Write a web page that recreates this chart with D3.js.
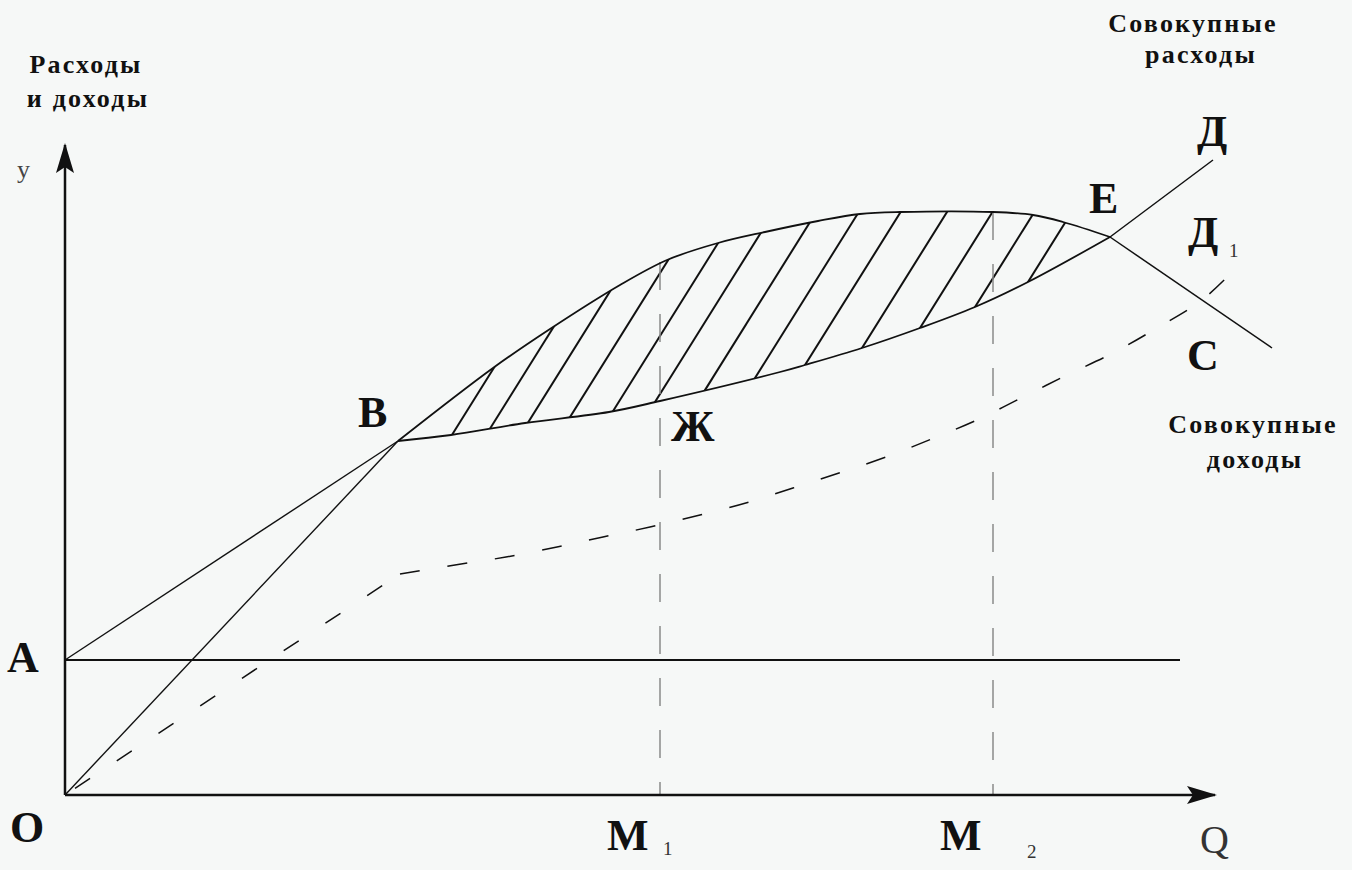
<!DOCTYPE html>
<head>
  <meta charset="utf-8">
  <script src="https://d3js.org/d3.v7.min.js"></script>
  <style>
    body { margin: 0; background-color: #f6f8f7; }
    svg { display: block; background-color: #f6f8f7; }
    text { font-family: "Liberation Serif", "DejaVu Serif", serif; fill: #111; }
    .big { font-size: 44px; font-weight: bold; }
    .cap { font-size: 26px; font-weight: bold; letter-spacing: 2.2px; }
    .sub { font-size: 19px; fill: #333; }
  </style>
</head>

<body>
  <div id="graph"></div>
  <script>
    var width = 1352;
    var height = 870;

    // axis extents (Q, y units)
    var xMax = 115, yMax = 65;

    // fixed costs level (A) and point B
    var fixedLevel = 13.5;
    var pointB = [33.3, 35.4];

    // upper curve B -> E
    var upX = [33.3, 42.8, 48.5, 55.5, 60.2, 65.3, 70.0, 75.3, 79.5, 83.5, 92.8, 96.8, 99.8, 104.5];
    var upY = [35.4, 42.7, 46.6, 51.0, 53.5, 55.2, 56.3, 57.4, 58.1, 58.3, 58.3, 58.0, 57.3, 55.8];

    // lower curve B -> E
    var lowX = [33.3, 38.6, 46.0, 54.4, 59.5, 71.5, 74.0, 79.7, 85.5, 91.0, 96.3, 104.5];
    var lowY = [35.4, 36.0, 37.2, 38.3, 39.4, 42.3, 43.0, 44.7, 46.7, 48.8, 51.3, 55.8];

    // straight continuations after E
    var pointE = [104.5, 55.8];
    var pointD = [114.8, 63.5];
    var pointC = [120.7, 44.7];

    // dashed line O -> Д1
    var dashX = [0, 33.5, 39.0, 44.1, 49.2, 53.8, 58.5, 63.5, 68.4, 72.8, 77.4, 82.1, 86.9, 91.2, 95.8, 100.2, 104.8, 109.2, 113.7, 117.7];
    var dashY = [0, 22.1, 23.0, 23.8, 24.8, 25.8, 26.8, 28.0, 29.3, 30.7, 32.2, 33.8, 35.7, 37.5, 39.8, 42.0, 44.2, 46.7, 49.5, 53.3];

    // M1, M2 and the top of their guide lines
    var mX = [59.5, 92.8];
    var mTop = [53.3, 58.3];
    var mNames = ["1", "2"];

    // hatching: where each stroke leaves the lower curve, and its slope
    var hatchX = [38.7, 42.5, 46.3, 50.5, 54.8, 59.0, 64.0, 69.0, 74.0, 79.7, 85.5, 91.0, 96.3];
    var hatchSlope = 1.6;

    var svg = d3.select("#graph").append("svg")
      .attr("width", width)
      .attr("height", height);

    var x = d3.scaleLinear().domain([0, xMax]).range([65, 1215]);
    var y = d3.scaleLinear().domain([0, yMax]).range([795, 145]);

    var defs = svg.append("defs");
    defs.append("marker")
      .attr("id", "arrow")
      .attr("markerUnits", "userSpaceOnUse")
      .attr("viewBox", "0 -10 30 20")
      .attr("refX", 28)
      .attr("refY", 0)
      .attr("markerWidth", 30)
      .attr("markerHeight", 20)
      .attr("orient", "auto")
      .append("path")
      .attr("d", "M0,-9 L30,0 L0,9 L6,0 Z")
      .attr("fill", "#111");

    var zip = (xs, ys) => xs.map((v, i) => [v, ys[i]]);
    var upPts = zip(upX, upY);
    var lowPts = zip(lowX, lowY);
    var dashPts = zip(dashX, dashY);

    var curve = d3.line()
      .x(d => x(d[0]))
      .y(d => y(d[1]))
      .curve(d3.curveCatmullRom);
    var straight = d3.line()
      .x(d => x(d[0]))
      .y(d => y(d[1]));

    // clip region between the two curves
    var region = curve(upPts) + curve(lowPts.slice().reverse()).replace(/^M/, "L") + "Z";
    defs.append("clipPath").attr("id", "lens")
      .append("path").attr("d", region);

    var lowAt = d3.scaleLinear().domain(lowX).range(lowY);
    svg.append("g")
      .attr("clip-path", "url(#lens)")
      .selectAll("line")
      .data(hatchX).enter()
      .append("line")
      .attr("x1", d => x(d - 1))
      .attr("y1", d => y(lowAt(d) - hatchSlope))
      .attr("x2", d => x(d + 14))
      .attr("y2", d => y(lowAt(d) + 14 * hatchSlope))
      .attr("stroke", "#111")
      .attr("stroke-width", 2);

    // guide lines at M1, M2
    svg.selectAll(".guide")
      .data(mX).enter()
      .append("line")
      .attr("class", "guide")
      .attr("x1", d => x(d))
      .attr("x2", d => x(d))
      .attr("y1", (d, i) => y(mTop[i]))
      .attr("y2", y(0))
      .attr("stroke", "#8a8a8a")
      .attr("stroke-width", 1.5)
      .attr("stroke-dasharray", "28,24");

    // fixed costs line
    svg.append("line")
      .attr("x1", x(0)).attr("x2", x(111.5))
      .attr("y1", y(fixedLevel)).attr("y2", y(fixedLevel))
      .attr("stroke", "#111").attr("stroke-width", 2);

    // A -> B and O -> B
    svg.append("path")
      .attr("d", straight([[0, fixedLevel], pointB]))
      .attr("stroke", "#111").attr("stroke-width", 1.4).attr("fill", "none");
    svg.append("path")
      .attr("d", straight([[0, 0], pointB]))
      .attr("stroke", "#111").attr("stroke-width", 1.4).attr("fill", "none");

    // the two curves and their continuations
    svg.append("path").attr("d", curve(upPts))
      .attr("stroke", "#111").attr("stroke-width", 1.8).attr("fill", "none");
    svg.append("path").attr("d", curve(lowPts))
      .attr("stroke", "#111").attr("stroke-width", 1.8).attr("fill", "none");
    svg.append("path").attr("d", straight([pointE, pointD]))
      .attr("stroke", "#111").attr("stroke-width", 1.5).attr("fill", "none");
    svg.append("path").attr("d", straight([pointE, pointC]))
      .attr("stroke", "#111").attr("stroke-width", 1.5).attr("fill", "none");

    // dashed line: straight to the kink, then smooth
    svg.append("path").attr("d", straight(dashPts.slice(0, 2)))
      .attr("stroke", "#111").attr("stroke-width", 1.5).attr("fill", "none")
      .attr("stroke-dasharray", "18,32").attr("stroke-dashoffset", -12);
    svg.append("path").attr("d", curve(dashPts.slice(1)))
      .attr("stroke", "#111").attr("stroke-width", 1.5).attr("fill", "none")
      .attr("stroke-dasharray", "20,28");

    // axes
    svg.append("line")
      .attr("x1", x(0)).attr("y1", y(0))
      .attr("x2", x(xMax)).attr("y2", y(0))
      .attr("stroke", "#111").attr("stroke-width", 2.5)
      .attr("marker-end", "url(#arrow)");
    svg.append("line")
      .attr("x1", x(0)).attr("y1", y(0))
      .attr("x2", x(0)).attr("y2", y(yMax))
      .attr("stroke", "#111").attr("stroke-width", 2.5)
      .attr("marker-end", "url(#arrow)");

    // labels
    function label(txt, px, py, cls, anchor) {
      svg.append("text").attr("x", px).attr("y", py)
        .attr("class", cls).attr("text-anchor", anchor || "start").text(txt);
    }
    label("Расходы", 86, 73, "cap", "middle");
    label("и доходы", 88, 107, "cap", "middle");
    label("Совокупные", 1193, 32, "cap", "middle");
    label("расходы", 1201, 63, "cap", "middle");
    label("Совокупные", 1253, 433, "cap", "middle");
    label("доходы", 1255, 468, "cap", "middle");

    svg.append("text").attr("x", 17).attr("y", 178)
      .style("font-size", "26px").style("fill", "#444").text("y");
    svg.append("text").attr("x", 1200).attr("y", 853)
      .style("font-size", "40px").style("fill", "#333").text("Q");

    label("O", x(0) - 55, y(0) + 47, "big");
    label("A", x(0) - 58, y(fixedLevel) + 12, "big");
    label("B", x(pointB[0]) - 40, y(pointB[1]) - 14, "big");
    label("Ж", x(mX[0]) + 11, y(lowAt(mX[0])) + 40, "big");
    label("E", x(pointE[0]) - 21, y(pointE[1]) - 24, "big");
    label("Д", x(pointD[0]) - 16, y(pointD[1]) - 14, "big");
    label("Д", 1188, 247, "big");
    label("1", 1229, 257, "sub");
    label("C", x(pointC[0]) - 85, y(pointC[1]) + 22, "big");

    mX.forEach(function(m, i) {
      label("M", x(m) - 53, 850, "big");
      label(mNames[i], x(m) + (i ? 34 : 3), i ? 858 : 855, "sub");
    });
  </script>
</body>
